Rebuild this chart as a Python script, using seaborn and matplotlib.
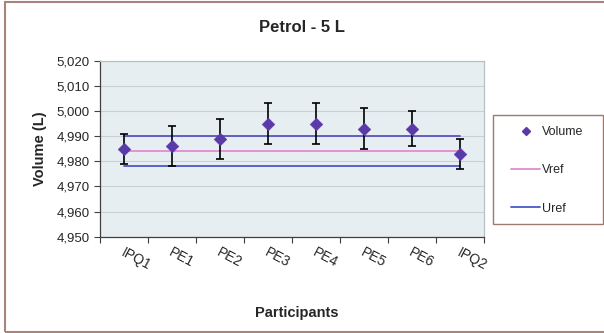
import matplotlib
matplotlib.use("Agg")
import matplotlib.pyplot as plt
from matplotlib.lines import Line2D
from matplotlib.patches import Rectangle
import seaborn as sns
import pandas as pd
import numpy as np

participants = ["IPQ1", "PE1", "PE2", "PE3", "PE4", "PE5", "PE6", "IPQ2"]
volume = [4.985, 4.986, 4.989, 4.995, 4.995, 4.993, 4.993, 4.983]
uncertainty = [0.006, 0.008, 0.008, 0.008, 0.008, 0.008, 0.007, 0.006]
v_ref = 4.984
u_ref = 0.006
y_ticks = [4.950, 4.960, 4.970, 4.980, 4.990, 5.000, 5.010, 5.020]

df = pd.DataFrame({"pos": np.arange(len(participants)), "Participant": participants,
                   "Volume": volume, "U": uncertainty})
ref = pd.DataFrame({"pos": [0, len(participants) - 1]})

sns.set_theme(style="white")
plt.rcParams["font.family"] = ["Liberation Sans", "DejaVu Sans"]

fig = plt.figure(figsize=(6.04, 3.33), dpi=100)
fig.patch.set_facecolor("white")
# outer chart frame (runs off the right edge)
fig.add_artist(Rectangle((5 / 604, 1 - 332 / 333), 1.2, 330 / 333, transform=fig.transFigure,
                         fill=False, edgecolor="#a8847c", linewidth=1.5))

ax = fig.add_axes([100 / 604, 1 - 236.7 / 333, 384 / 604, 176 / 333])
ax.set_facecolor("#e6eef2")

purple = "#5a3aa8"
pink = "#e48ad0"
blue_up = "#5a52c4"
blue_lo = "#4a58c8"

# reference lines
sns.lineplot(x=ref["pos"], y=[v_ref + u_ref] * 2, ax=ax, color=blue_up, linewidth=1.3)
sns.lineplot(x=ref["pos"], y=[v_ref] * 2, ax=ax, color=pink, linewidth=1.3)
sns.lineplot(x=ref["pos"], y=[v_ref - u_ref] * 2, ax=ax, color=blue_lo, linewidth=1.3)

ax.errorbar(df["pos"], df["Volume"], yerr=df["U"], fmt="none", ecolor="black",
            elinewidth=1.2, capsize=3, capthick=1.2, zorder=3)
sns.scatterplot(data=df, x="pos", y="Volume", ax=ax, marker="D", s=40, color=purple,
                edgecolor=purple, zorder=4, legend=False)

ax.set_xlim(-0.5, len(participants) - 0.5)
ax.set_ylim(4.950, 5.020)
ax.set_yticks(y_ticks)
ax.set_yticklabels([f"{v:.3f}".replace(".", ",") for v in y_ticks], fontsize=9.5)
ax.yaxis.grid(True, color="#c9d1d5", linewidth=0.8)
ax.set_axisbelow(True)

ax.set_xticks(np.arange(len(participants) + 1) - 0.5)
ax.set_xticklabels([])
ax.tick_params(axis="both", direction="out", length=4, width=0.8, color="#404040",
               left=True, bottom=True)
for i, lab in enumerate(participants):
    ax.text(i + 0.02, 4.9465, lab, rotation=-28, ha="left", va="top",
            rotation_mode="anchor", fontsize=10, transform=ax.transData)

for side in ["left", "bottom"]:
    ax.spines[side].set_color("#404040")
    ax.spines[side].set_linewidth(0.9)
for side in ["top", "right"]:
    ax.spines[side].set_color("#b8c0c4")
    ax.spines[side].set_linewidth(0.9)

ax.set_xlabel("")
ax.set_ylabel("Volume (L)", fontsize=10.5, fontweight="bold", labelpad=7)
fig.text(297 / 604, 1 - 313 / 333, "Participants", ha="center", va="center",
         fontsize=10.5, fontweight="bold")
fig.text(302 / 604, 1 - 27 / 333, "Petrol - 5 L", ha="center", va="center",
         fontsize=12, fontweight="bold")

# legend box
fig.add_artist(Rectangle((493 / 604, 1 - 224 / 333), 110 / 604, 109 / 333,
                         transform=fig.transFigure, fill=False, edgecolor="#a07870",
                         linewidth=1.0))
handles = [
    Line2D([], [], linestyle="none", marker="D", markersize=4, color=purple),
    Line2D([], [], color=pink, linewidth=1.3),
    Line2D([], [], color=blue_lo, linewidth=1.3),
]
leg = fig.legend(handles, ["Volume", "Vref", "Uref"], loc="upper left",
                 bbox_to_anchor=(511 / 604, 1 - 126 / 333), fontsize=9,
                 frameon=False, labelspacing=2.1, handlelength=2.35,
                 handletextpad=0.15, borderpad=0, borderaxespad=0)

fig.savefig("out.png", dpi=100)
